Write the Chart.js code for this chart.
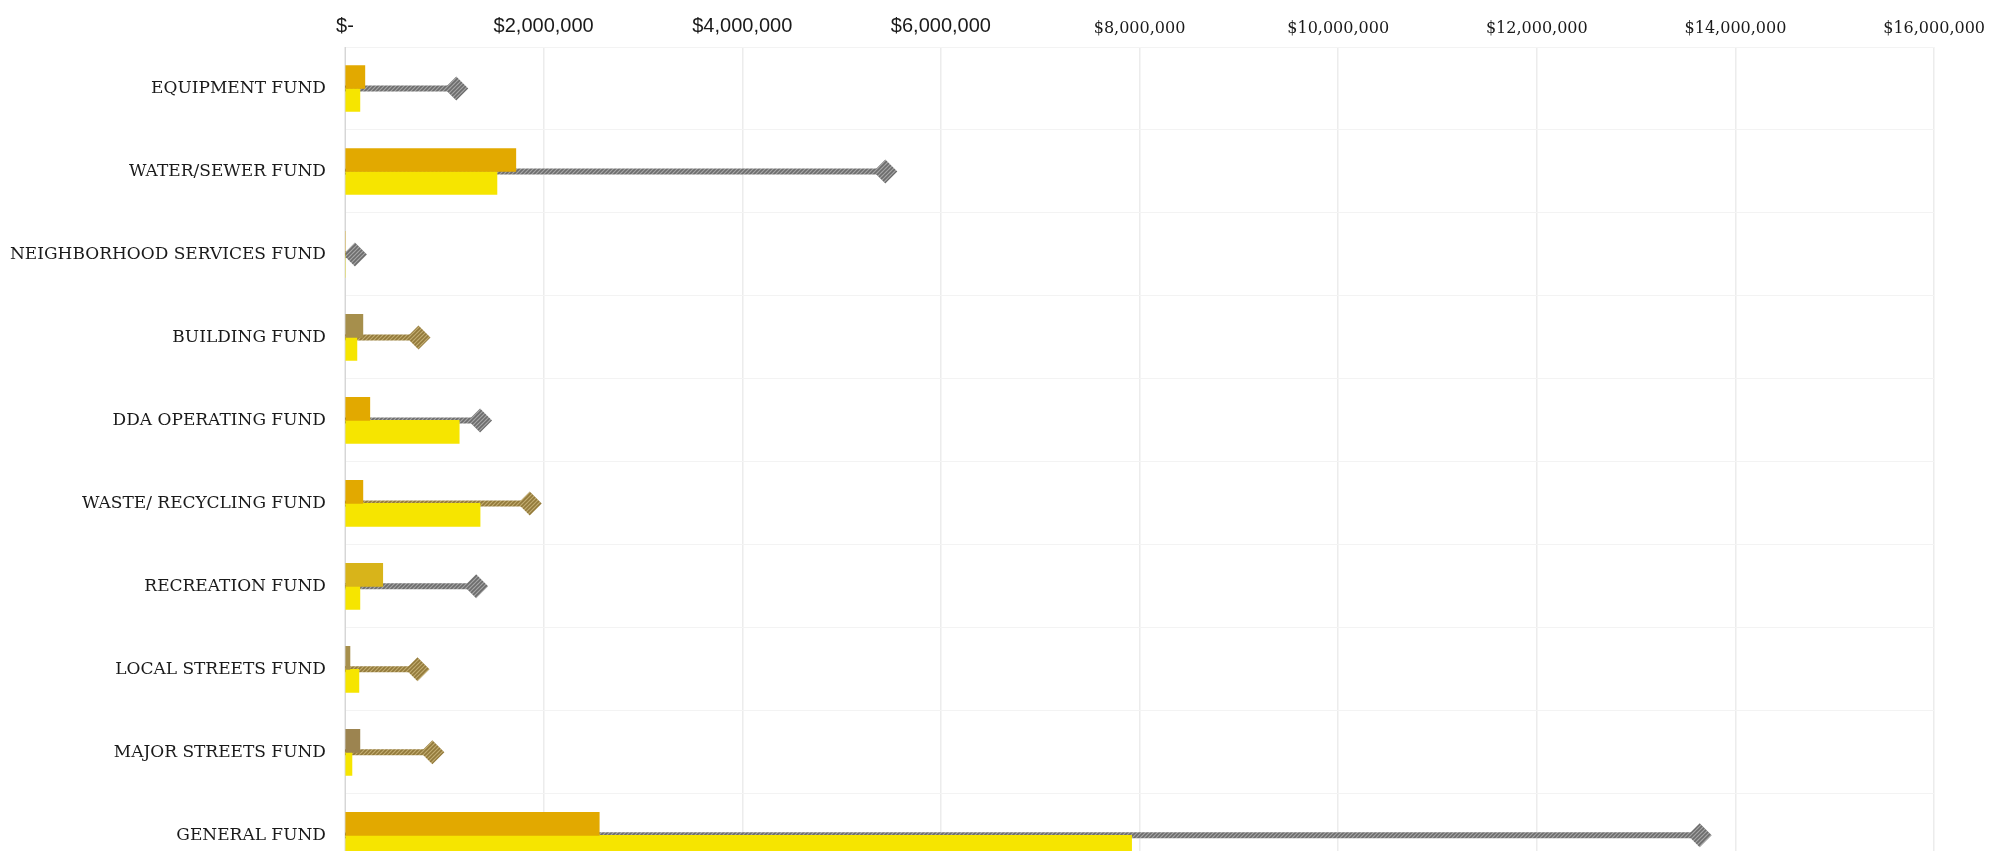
<!DOCTYPE html>
<html>
<head>
<meta charset="utf-8">
<script src="https://cdn.jsdelivr.net/npm/chart.js@4/dist/chart.umd.min.js"></script>
<style>
  html, body { margin: 0; padding: 0; background: #ffffff; overflow: hidden; }
  #funds { display: block; }
</style>
</head>
<body>
<canvas id="funds" width="1994" height="906"></canvas>
<script>
// Fund names, top to bottom
const funds = [
  'EQUIPMENT FUND',
  'WATER/SEWER FUND',
  'NEIGHBORHOOD SERVICES FUND',
  'BUILDING FUND',
  'DDA OPERATING FUND',
  'WASTE/ RECYCLING FUND',
  'RECREATION FUND',
  'LOCAL STREETS FUND',
  'MAJOR STREETS FUND',
  'GENERAL FUND'
];

// Upper bar of each pair (dollars)
const upperBar = [200000, 1720000, 0, 180000, 250000, 180000, 380000, 50000, 150000, 2560000];
// Lower bar of each pair (dollars)
const lowerBar = [150000, 1530000, 0, 120000, 1150000, 1360000, 150000, 140000, 70000, 7920000];
// Line ending in a diamond marker (dollars)
const lineValue = [1120000, 5440000, 100000, 740000, 1360000, 1860000, 1320000, 730000, 880000, 13640000];

// Dollar axis ticks
const axisMin = 0;
const axisMax = 16000000;
const axisStep = 2000000;

// Colour groups
const ORANGE = '#e2a900';
const YELLOW = '#f6e500';
const OLIVE = '#a68f4c';
const MUSTARD = '#d8b41a';
const upperColors = [ORANGE, ORANGE, ORANGE, OLIVE, ORANGE, ORANGE, MUSTARD, OLIVE, '#9c8450', ORANGE];
const lineTone = ['gray', 'gray', 'gray', 'olive', 'gray', 'olive', 'gray', 'olive', 'olive', 'gray'];

// Small hatched fill used for the lines and diamonds
function hatch(dark, light) {
  const c = document.createElement('canvas');
  c.width = 4; c.height = 4;
  const g = c.getContext('2d');
  g.fillStyle = light;
  g.fillRect(0, 0, 4, 4);
  g.strokeStyle = dark;
  g.lineWidth = 1.6;
  g.beginPath();
  g.moveTo(0, 4); g.lineTo(4, 0);
  g.moveTo(-1, 1); g.lineTo(1, -1);
  g.moveTo(3, 5); g.lineTo(5, 3);
  g.stroke();
  return g.createPattern(c, 'repeat');
}
const tones = {
  gray: hatch('#6c6c6c', '#a6a6a6'),
  olive: hatch('#92793a', '#c2ac70')
};

// Line segments from zero to each value, separated by gaps
const linePoints = [];
const pointTone = [];
funds.forEach((f, i) => {
  linePoints.push({ x: 0, y: f });
  pointTone.push(lineTone[i]);
  linePoints.push({ x: lineValue[i], y: f });
  pointTone.push(lineTone[i]);
  linePoints.push({ x: null, y: f });
  pointTone.push(lineTone[i]);
});

function money(v) {
  return v === 0 ? '$-' : '$' + Number(v).toLocaleString('en-US');
}

new Chart(document.getElementById('funds'), {
  type: 'bar',
  data: {
    labels: funds,
    datasets: [
      {
        type: 'line',
        label: 'Line',
        indexAxis: 'y',
        data: linePoints,
        order: 5,
        borderWidth: 6,
        borderCapStyle: 'butt',
        spanGaps: false,
        segment: {
          borderColor: ctx => tones[pointTone[ctx.p0DataIndex]]
        },
        borderColor: tones.gray,
        pointStyle: 'rectRot',
        pointRadius: ctx => (ctx.raw && ctx.raw.x > 0 ? 12 : 0),
        pointBackgroundColor: ctx => tones[pointTone[ctx.dataIndex]],
        pointBorderWidth: 0,
        pointHoverRadius: 12
      },
      {
        label: 'Upper',
        data: upperBar,
        backgroundColor: upperColors,
        barThickness: 23,
        order: 1
      },
      {
        label: 'Lower',
        data: lowerBar,
        backgroundColor: YELLOW,
        barThickness: 23,
        order: 2
      }
    ]
  },
  options: {
    indexAxis: 'y',
    responsive: false,
    maintainAspectRatio: false,
    animation: false,
    layout: { padding: { top: 5, right: 55, bottom: 6, left: 0 } },
    plugins: {
      legend: { display: false },
      tooltip: { enabled: false }
    },
    scales: {
      x: {
        position: 'top',
        min: axisMin,
        max: axisMax,
        ticks: {
          stepSize: axisStep,
          padding: 9,
          color: '#1a1a1a',
          maxRotation: 0,
          font: ctx => (ctx.index >= 4
            ? { family: '"DejaVu Serif", serif', size: 16 }
            : { family: '"Liberation Sans", Arial, sans-serif', size: 20 }),
          callback: v => money(v)
        },
        grid: { color: '#ececec', lineWidth: 1.5, drawTicks: false },
        border: { display: false }
      },
      y: {
        afterFit: s => { s.width = 345; },
        ticks: {
          padding: 19,
          color: '#1a1a1a',
          font: { family: '"DejaVu Serif", serif', size: 17 }
        },
        grid: { color: '#f3f3f3', lineWidth: 1, drawTicks: false, offset: true },
        border: { display: true, color: '#d6d6d6', width: 1 }
      }
    }
  }
});
</script>
</body>
</html>
